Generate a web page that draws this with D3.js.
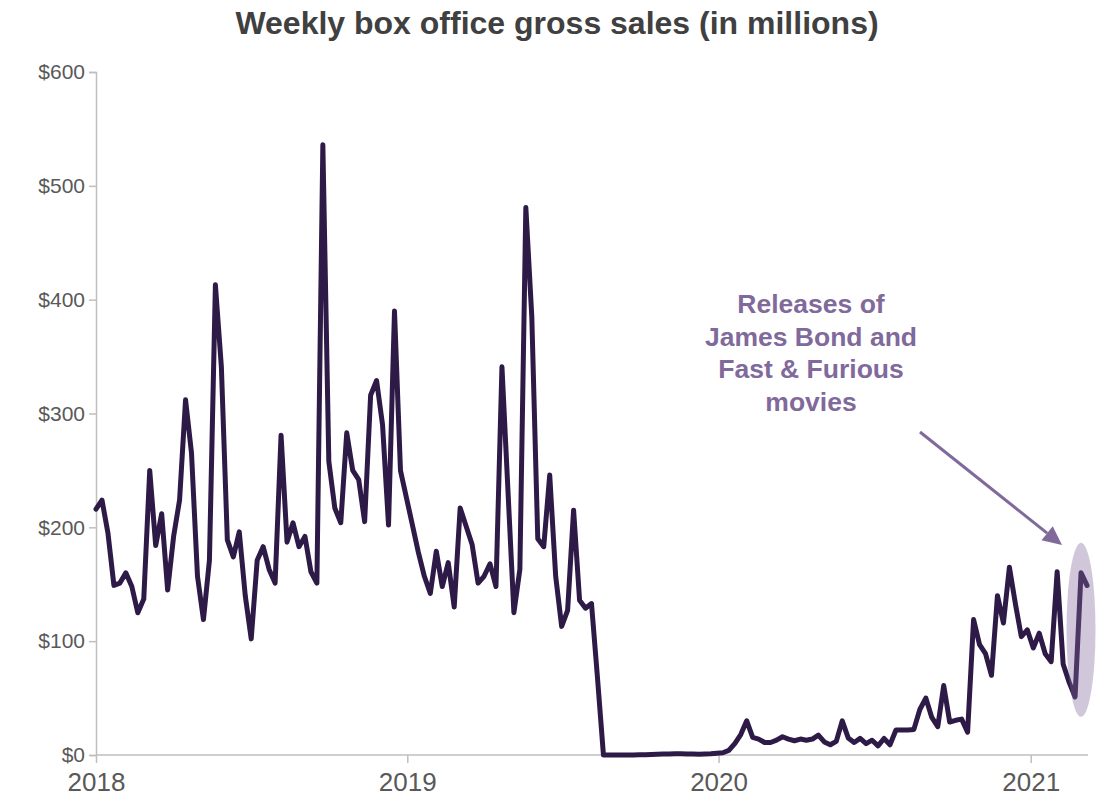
<!DOCTYPE html>
<html>
<head>
<meta charset="utf-8">
<script src="https://cdn.jsdelivr.net/npm/d3@7"></script>
<style>
  html, body { margin: 0; padding: 0; background: #ffffff; }
  svg { display: block; font-family: "Liberation Sans", Arial, sans-serif; }
</style>
</head>
<body>
<svg id="chart" width="1099" height="801"></svg>
<script>
// Weekly box office gross, $ millions, one value per week starting 2018-01-01
const startDate = "2018-01-01";
const weeklyGross = [
  216, 224, 195, 149, 151, 160, 148, 125, 137, 250,
  184, 212, 145, 192, 224, 312, 265, 157, 119, 171,
  413, 341, 189, 174, 196, 140, 102, 171, 183, 163,
  151, 281, 187, 204, 183, 192, 161, 151, 536, 258,
  217, 204, 283, 250, 242, 205, 316, 329, 290, 202,
  390, 250, 226, 202, 178, 157, 142, 179, 148, 169,
  130, 217, 201, 185, 151, 157, 168, 148, 341, 233,
  125, 163, 481, 385, 190, 183, 246, 157, 113, 127,
  215, 136, 129, 133, 68, 0, 0, 0, 0, 0,
  0, 0.2, 0.3, 0.5, 0.6, 0.8, 0.9, 1, 1, 0.9,
  0.8, 0.7, 0.8, 1, 1.5, 2, 4, 10, 18, 30,
  15.5, 14, 11, 11, 13, 16, 14, 12.5, 14, 13,
  14, 17.5, 11.5, 9, 12, 30, 15, 11, 14.6, 10,
  13, 8, 14.5, 9, 22, 22, 22, 22.5, 40, 50,
  33, 25, 61, 29, 30.5, 31.5, 20, 119, 97, 89,
  70, 140, 116, 165, 133, 104, 110, 94, 107, 89,
  82, 161, 80, 64, 51, 160, 149
];
const yTicks = [0, 100, 200, 300, 400, 500, 600];
const xTickYears = ["2018", "2019", "2020", "2021"];
const titleText = "Weekly box office gross sales (in millions)";
const noteLines = ["Releases of", "James Bond and", "Fast & Furious", "movies"];
// the last two weeks are the highlighted release weeks
const highlightWeeks = [165, 166];

const parseDate = d3.timeParse("%Y-%m-%d");
const t0 = parseDate(startDate);
const series = weeklyGross.map((v, i) => ({ date: d3.timeDay.offset(t0, 7 * i), value: v }));

const svg = d3.select("#chart");
const plotLeft = 96, plotRight = 1087, axisEnd = 1088;

const x = d3.scaleTime()
  .domain([series[0].date, series[series.length - 1].date])
  .range([plotLeft, plotRight]);
const y = d3.scaleLinear().domain([0, 600]).range([755, 72]);

const axisColor = "#bfbfbf";
const textColor = "#595959";
const lineColor = "#2e1a47";
const noteColor = "#7f6a9b";

// Title
svg.append("text")
  .attr("x", 557).attr("y", 34)
  .attr("text-anchor", "middle")
  .attr("font-size", 32).attr("font-weight", "bold")
  .attr("fill", "#404040")
  .text(titleText);

// Y axis
const yAxis = svg.append("g")
  .attr("transform", `translate(${plotLeft},0)`)
  .call(d3.axisLeft(y).tickValues(yTicks).tickSize(7).tickPadding(4)
    .tickFormat(d => "$" + d));
yAxis.select(".domain").attr("stroke", axisColor).attr("stroke-width", 1.5);
yAxis.selectAll(".tick line").attr("stroke", axisColor).attr("stroke-width", 1.5);
yAxis.selectAll(".tick text").attr("fill", textColor).attr("font-size", 21)
  .attr("font-family", "Liberation Sans, Arial, sans-serif");

// X axis
const yearDates = xTickYears.map(s => parseDate(s + "-01-01"));
const xAxis = svg.append("g")
  .attr("transform", `translate(0,${y(0)})`)
  .call(d3.axisBottom(x).tickValues(yearDates).tickSize(8).tickPadding(10)
    .tickSizeOuter(0)
    .tickFormat(d3.timeFormat("%Y")));
xAxis.select(".domain").attr("stroke", axisColor).attr("stroke-width", 1.5)
  .attr("d", `M${plotLeft},0H${axisEnd}`);
xAxis.selectAll(".tick line").attr("stroke", axisColor).attr("stroke-width", 1.5);
xAxis.selectAll(".tick text").attr("fill", textColor).attr("font-size", 26)
  .attr("font-family", "Liberation Sans, Arial, sans-serif");

// Weekly gross line
const line = d3.line().x(d => x(d.date)).y(d => y(d.value));
svg.append("path")
  .datum(series)
  .attr("fill", "none")
  .attr("stroke", lineColor)
  .attr("stroke-width", 5)
  .attr("stroke-linejoin", "round")
  .attr("stroke-linecap", "round")
  .attr("d", line);

// Highlight around the release weeks
const hx = d3.mean(highlightWeeks, i => x(series[i].date)) - 3;
svg.append("ellipse")
  .attr("cx", hx).attr("cy", y(110))
  .attr("rx", 14.5).attr("ry", 87)
  .attr("fill", noteColor).attr("fill-opacity", 0.37);

// Annotation text
const noteX = 811;
const note = svg.append("text")
  .attr("x", noteX).attr("y", 313)
  .attr("text-anchor", "middle")
  .attr("font-size", 26.5).attr("font-weight", "bold")
  .attr("fill", noteColor);
noteLines.forEach((s, i) => {
  note.append("tspan").attr("x", noteX).attr("dy", i === 0 ? 0 : 32.5).text(s);
});

// Arrow pointing at the highlight
const ax0 = 920, ay0 = 432, ax1 = 1062, ay1 = 545;
const ang = Math.atan2(ay1 - ay0, ax1 - ax0);
const headLen = 19, headHalf = 9;
const bx = ax1 - headLen * Math.cos(ang), by = ay1 - headLen * Math.sin(ang);
svg.append("line")
  .attr("x1", ax0).attr("y1", ay0).attr("x2", bx).attr("y2", by)
  .attr("stroke", noteColor).attr("stroke-width", 3);
svg.append("path")
  .attr("d", `M${ax1},${ay1}L${bx + headHalf * Math.sin(ang)},${by - headHalf * Math.cos(ang)}L${bx - headHalf * Math.sin(ang)},${by + headHalf * Math.cos(ang)}Z`)
  .attr("fill", noteColor);
</script>
</body>
</html>
